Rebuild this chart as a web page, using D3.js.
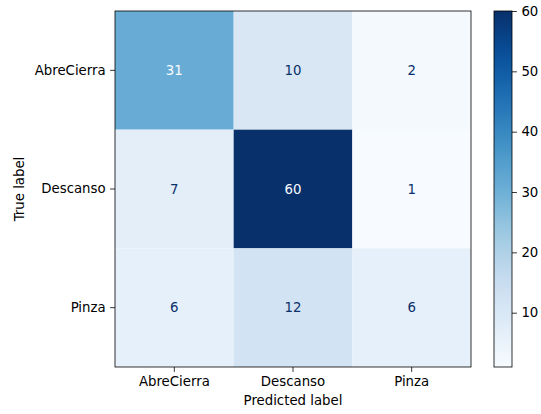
<!DOCTYPE html>
<html>
<head>
<meta charset="utf-8">
<script src="https://cdn.jsdelivr.net/npm/d3@7"></script>
<style>
  html, body { margin: 0; padding: 0; background: #fff; }
  svg text { font-family: "DejaVu Sans", sans-serif; }
</style>
</head>
<body>
<svg id="chart" width="541" height="414"></svg>
<script>
// Confusion matrix data
const classes = ["AbreCierra", "Descanso", "Pinza"];
const matrix = [
  [31, 10, 2],
  [7, 60, 1],
  [6, 12, 6]
];
const colorbarTicks = [10, 20, 30, 40, 50, 60];
const xAxisTitle = "Predicted label";
const yAxisTitle = "True label";

// Matplotlib "Blues" anchors (linear segmented)
const bluesStops = ["#f7fbff", "#deebf7", "#c6dbef", "#9ecae1", "#6baed6",
                    "#4292c6", "#2171b5", "#08519c", "#08306b"];

const svg = d3.select("#chart");
const plot = { left: 115, top: 11, size: 356 };
const cbar = { left: 494, width: 18 };

const allVals = matrix.flat();
const vmin = d3.min(allVals), vmax = d3.max(allVals);

const cmapT = d3.scaleLinear()
  .domain(d3.range(bluesStops.length).map(i => i / (bluesStops.length - 1)))
  .range(bluesStops)
  .interpolate(d3.interpolateRgb);
const norm = d3.scaleLinear().domain([vmin, vmax]).range([0, 1]).clamp(true);
const color = v => cmapT(norm(v));

const x = d3.scaleBand().domain(classes).range([plot.left, plot.left + plot.size]);
const y = d3.scaleBand().domain(classes).range([plot.top, plot.top + plot.size]);

// Cells
const cells = [];
matrix.forEach((row, i) => row.forEach((v, j) => cells.push({ r: classes[i], c: classes[j], v })));

svg.append("g").selectAll("rect").data(cells).join("rect")
  .attr("x", d => x(d.c))
  .attr("y", d => y(d.r))
  .attr("width", x.bandwidth())
  .attr("height", y.bandwidth())
  .attr("fill", d => color(d.v));

const thresh = (vmin + vmax) / 2;
svg.append("g").selectAll("text").data(cells).join("text")
  .attr("x", d => x(d.c) + x.bandwidth() / 2)
  .attr("y", d => y(d.r) + y.bandwidth() / 2)
  .attr("text-anchor", "middle")
  .attr("dominant-baseline", "central")
  .attr("font-size", "13.3px")
  .attr("fill", d => d.v < thresh ? cmapT(1) : cmapT(0))
  .text(d => d.v);

// Frame
svg.append("rect")
  .attr("x", plot.left).attr("y", plot.top)
  .attr("width", plot.size).attr("height", plot.size)
  .attr("fill", "none").attr("stroke", "#000").attr("stroke-width", 0.8);

// Axes
const styleAxis = g => {
  g.select(".domain").remove();
  g.selectAll(".tick line").attr("stroke", "#000").attr("stroke-width", 0.8);
  g.selectAll(".tick text").attr("font-size", "13.3px").attr("fill", "#000")
    .attr("font-family", "DejaVu Sans, sans-serif");
};

svg.append("g")
  .attr("transform", `translate(0,${plot.top + plot.size})`)
  .call(d3.axisBottom(x).tickSize(4.9).tickPadding(4.5))
  .call(styleAxis);

svg.append("g")
  .attr("transform", `translate(${plot.left},0)`)
  .call(d3.axisLeft(y).tickSize(4.9).tickPadding(4.5))
  .call(styleAxis);

svg.append("text")
  .attr("x", plot.left + plot.size / 2)
  .attr("y", 405)
  .attr("text-anchor", "middle")
  .attr("font-size", "13.3px")
  .text(xAxisTitle);

svg.append("text")
  .attr("transform", `translate(24,${plot.top + plot.size / 2}) rotate(-90)`)
  .attr("text-anchor", "middle")
  .attr("font-size", "13.3px")
  .text(yAxisTitle);

// Colorbar
const cy = d3.scaleLinear().domain([vmin, vmax]).range([plot.top + plot.size, plot.top]);
const defs = svg.append("defs");
const grad = defs.append("linearGradient").attr("id", "cbarGrad")
  .attr("x1", 0).attr("y1", 1).attr("x2", 0).attr("y2", 0);
d3.range(0, 1.0001, 0.05).forEach(t => {
  grad.append("stop").attr("offset", t).attr("stop-color", cmapT(t));
});
svg.append("rect")
  .attr("x", cbar.left).attr("y", plot.top)
  .attr("width", cbar.width).attr("height", plot.size)
  .attr("fill", "url(#cbarGrad)")
  .attr("stroke", "#000").attr("stroke-width", 0.8);

svg.append("g")
  .attr("transform", `translate(${cbar.left + cbar.width},0)`)
  .call(d3.axisRight(cy).tickValues(colorbarTicks).tickSize(4.9).tickPadding(4.5))
  .call(styleAxis);
</script>
</body>
</html>
